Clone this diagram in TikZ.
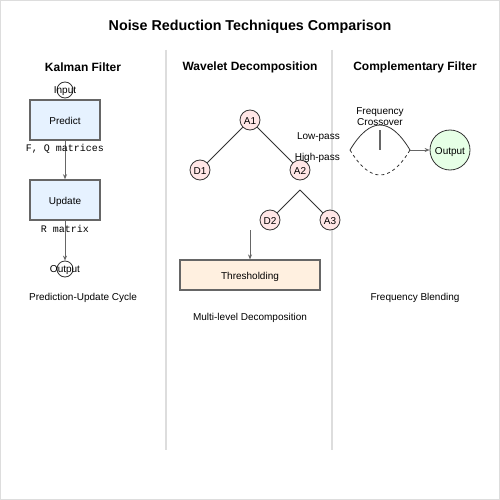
\documentclass[tikz,border=0pt]{standalone}
\usepackage{fontspec}
\setmainfont{Liberation Sans}
\setmonofont{Liberation Mono}
\usetikzlibrary{arrows.meta,positioning}
\definecolor{rim}{HTML}{DDDDDD}
\definecolor{edge}{HTML}{666666}
\definecolor{ink}{HTML}{333333}
\definecolor{kfill}{HTML}{E6F2FF}
\definecolor{wfill}{HTML}{FFE6E6}
\definecolor{tfill}{HTML}{FFF0E0}
\definecolor{cfill}{HTML}{E6FFE6}
\tikzset{
  txt/.style={font=\fontsize{10}{12}\selectfont, inner sep=0},
  sunk/.style={yshift=-1.5pt},
  fit in/.style={text height=9.5pt, text depth=0pt},
  mono/.style={font=\ttfamily\fontsize{10}{12}\selectfont, inner sep=0, sunk},
  head/.style={font=\bfseries\fontsize{12}{14}\selectfont, inner sep=0, sunk},
  kbox/.style={draw=edge, line width=1.5pt, fill=kfill, minimum width=70pt, minimum height=40pt, inner sep=0, txt, fit in},
  ring/.style={circle, draw=ink, line width=0.8pt, minimum size=16pt, inner sep=0},
  wnode/.style={circle, draw=ink, line width=0.8pt, fill=wfill, minimum size=20pt, inner sep=0, txt, fit in},
  flow/.style={draw=edge, line width=1pt, -{Stealth[length=5pt,width=4pt]}},
  twig/.style={draw=ink, line width=0.8pt}
}
\begin{document}
\begin{tikzpicture}[x=1pt,y=-1pt]
\useasboundingbox (0,0) rectangle (500,500);
\draw[rim, fill=white] (0.5,0.5) rectangle (499.5,499.5);
\draw[rim, line width=2pt] (166,50) -- (166,450);
\draw[rim, line width=2pt] (332,50) -- (332,450);
\node[font=\bfseries\fontsize{14.3}{16}\selectfont, inner sep=0, yshift=-2pt] (title) at (250,25) {Noise Reduction Techniques Comparison};
\node[head] (kalman) at (83,66) {Kalman Filter};
\node[head] (wavelet) at (250,66) {Wavelet Decomposition};
\node[head] (compl) at (415,66) {Complementary Filter};

\node[ring, label={[txt, sunk]center:Input}] (input) at (65,90) {};
\node[kbox] (predict) at (65,120) {Predict};
\node[kbox] (update) at (65,200) {Update};
\node[ring, label={[txt, sunk]center:Output}] (kout) at (65,269) {};
\draw[flow] (predict) -- (update);
\draw[flow] (update) -- (kout);
\node[mono] (fq) at (65,147) {F, Q matrices};
\node[mono] (rm) at (65,227) {R matrix};
\node[txt, sunk] (kcap) at (83,296) {Prediction-Update Cycle};

\node[wnode] (a1) at (250,120) {A1};
\node[wnode] (d1) at (200,170) {D1};
\node[wnode] (a2) at (300,170) {A2};
\node[wnode] (d2) at (270,220) {D2};
\node[wnode] (a3) at (330,220) {A3};
\coordinate (split) at (300,190);
\draw[twig] (a1) -- (d1);
\draw[twig] (a1) -- (a2);
\draw[twig] (split) -- (d2);
\draw[twig] (split) -- (a3);
\node[draw=edge, line width=1.2pt, fill=tfill, minimum width=140pt, minimum height=30pt, inner sep=0, txt, fit in] (thresh) at (250,275) {Thresholding};
\coordinate (drop) at (250,230);
\draw[flow] (drop) -- (thresh);
\node[txt, sunk] (wcap) at (250,316) {Multi-level Decomposition};

\node[txt, sunk, anchor=east] (low) at (340,136) {Low-pass};
\node[txt, sunk, anchor=east] (high) at (340,156) {High-pass};
\node[txt, sunk] (freq) at (380,111) {Frequency};
\node[txt, sunk] (cross) at (380,121) {Crossover};
\coordinate (left) at (350,150);
\coordinate (right) at (410,150);
\draw[edge, line width=1.5pt] (380,130) -- (380,150);
\draw[ink, line width=0.8pt] (left) .. controls (370,116.7) and (390,116.7) .. (right);
\draw[ink, line width=0.8pt, dashed] (left) .. controls (370,183.3) and (390,183.3) .. (right);
\node[circle, draw=ink, line width=0.8pt, fill=cfill, minimum size=40pt, inner sep=0, txt, fit in] (cout) at (450,150) {Output};
\draw[flow] (right) -- (cout);
\node[txt, sunk] (ccap) at (415,296) {Frequency Blending};
\end{tikzpicture}
\end{document}
